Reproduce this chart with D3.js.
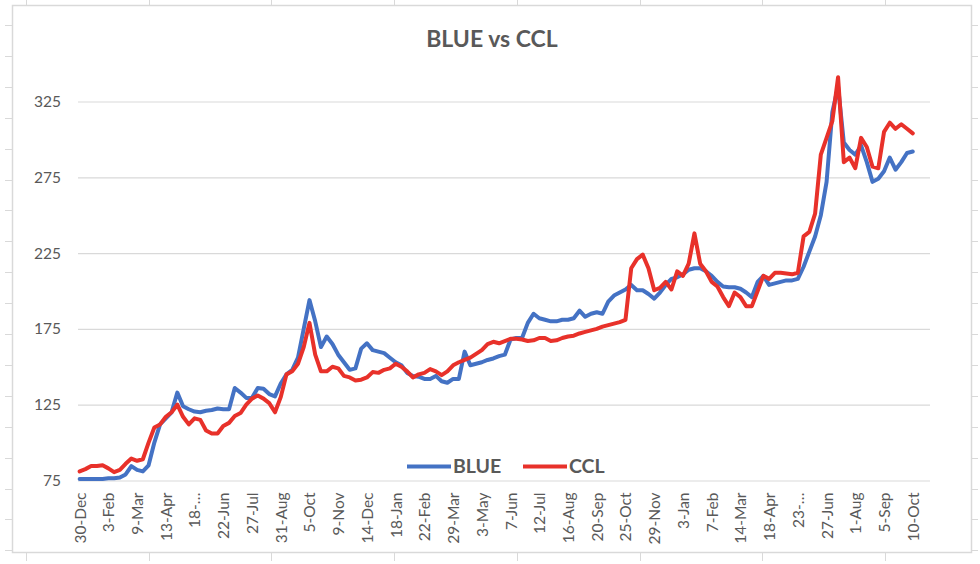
<!DOCTYPE html>
<html>
<head>
<meta charset="utf-8">
<script src="https://cdn.jsdelivr.net/npm/d3@7"></script>
<style>
body { margin: 0; background: #fff; }
svg text { font-family: Lato, "Open Sans", sans-serif; }
</style>
</head>
<body>
<div id="viz"></div>
<script>
var width = 980
var height = 564

// weekly readings, first week 30-Dec-2019
var firstWeek = "2019-12-30"

var blue = [76, 76, 76, 76, 76, 76.5, 76.5, 77, 79, 84.5,
	82, 81, 85, 100, 112, 116, 120, 133, 124, 122,
	120.5, 120, 121, 121.5, 122.5, 122, 122, 136, 133, 129.5,
	129.5, 136, 135.5, 132, 130.5, 139, 145, 148, 156, 175,
	194, 180, 163, 170, 165, 158, 153, 148, 149, 162,
	165.5, 161, 160, 159, 156, 153, 151, 146, 144, 143.5,
	142, 142, 144, 140.5, 139.5, 142, 142, 160, 151, 152,
	153, 154.5, 155.5, 157, 158, 168, 169, 169, 179, 185,
	182, 181, 180, 180, 181, 181, 182, 187, 183, 185,
	186, 185, 193, 197, 199, 201, 204, 200.5, 200.5, 198,
	195, 199, 204, 208, 209, 211, 214, 215, 215, 213,
	210, 206, 203, 202.5, 202.5, 201.5, 199, 196, 206, 210,
	204, 205, 206, 207, 207, 208, 216, 226, 236, 250,
	272, 318, 335, 298, 293, 290, 296, 285, 272, 274,
	279, 288, 280, 285, 291, 292]

var ccl = [81, 82.5, 84.5, 84.5, 85, 83, 80.5, 82, 86, 89.5,
	88, 89, 100, 110, 112, 117, 120, 125, 117, 112,
	116, 115, 108, 106, 106, 111, 113, 117.5, 119.5, 125,
	129, 131, 129, 126, 120, 130, 145, 147, 152, 163,
	179, 158, 147, 147, 150, 149, 144, 143, 141, 141.5,
	143, 146.5, 146, 148, 149, 152, 150, 147, 143, 145,
	146, 148.5, 147, 144.5, 147, 151, 153, 154.5, 156, 158.5,
	161, 165, 166.5, 165.5, 167, 168.5, 168.5, 168, 167, 167.5,
	169, 169, 167, 167.5, 169, 170, 170.5, 172, 173, 174,
	175, 176.5, 177.5, 178.5, 179.5, 181, 215, 221, 224, 215,
	200.5, 202, 206, 201, 213, 210, 218, 238, 218, 213,
	206, 203, 196, 190, 199, 196, 190, 190, 200, 210,
	208, 212, 212, 211.5, 211, 212, 236, 239, 251, 290,
	301, 312, 341, 285, 288, 281, 301, 295, 282, 281,
	305, 311, 307, 310, 307, 304]

var tickLabels = ["30-Dec", "3-Feb", "9-Mar", "13-Apr", "18-\u2026", "22-Jun", "27-Jul",
	"31-Aug", "5-Oct", "9-Nov", "14-Dec", "18-Jan", "22-Feb", "29-Mar", "3-May",
	"7-Jun", "12-Jul", "16-Aug", "20-Sep", "25-Oct", "29-Nov", "3-Jan", "7-Feb",
	"14-Mar", "18-Apr", "23-\u2026", "27-Jun", "1-Aug", "5-Sep", "10-Oct"]

var yTicks = [75, 125, 175, 225, 275, 325]

var seriesNames = ["BLUE", "CCL"]
var seriesColors = ["#4472c4", "#e8312a"]

var parseDate = d3.timeParse("%Y-%m-%d")
var start = parseDate(firstWeek)

var weeks = blue.map(function(d, i){ return d3.timeDay.offset(start, 7 * i) })
var tickDates = tickLabels.map(function(d, i){ return d3.timeDay.offset(start, 35 * i) })

var canvas = d3.select("#viz")
	.append("svg")
	.attr("width", width)
	.attr("height", height);

// spreadsheet gridline stubs round the chart object
var sheet = canvas.append("g").attr("stroke", "#d9d9d9").attr("stroke-width", 1);
d3.range(8).forEach(function(k){
	var x = Math.round(26 + 122.7 * k) + 0.5
	sheet.append("line").attr("x1", x).attr("x2", x).attr("y1", 0).attr("y2", 5)
	sheet.append("line").attr("x1", x).attr("x2", x).attr("y1", 553).attr("y2", 561)
})
d3.range(18).forEach(function(k){
	var y = Math.round(25 + 30.9 * k) + 0.5
	sheet.append("line").attr("x1", 5).attr("x2", 12).attr("y1", y).attr("y2", y)
	sheet.append("line").attr("x1", 972).attr("x2", 978).attr("y1", y).attr("y2", y)
})

canvas.append("rect")
	.attr("x", 12.5)
	.attr("y", 5.5)
	.attr("width", 959)
	.attr("height", 547)
	.attr("fill", "#fff")
	.attr("stroke", "#d9d9d9")
	.attr("stroke-width", 1.5);

var xScale = d3.scaleTime()
	.domain([parseDate("2019-12-28"), parseDate("2022-10-31")])
	.range([78, 930]);

var yScale = d3.scaleLinear()
	.domain([75, 325])
	.range([480.5, 101.5]);

var yAxis = d3.axisLeft()
	.scale(yScale)
	.tickValues(yTicks)
	.tickSize(-(930 - 78))
	.tickPadding(17);

var yG = canvas.append("g")
	.attr("transform", "translate(78,0)")
	.call(yAxis);
yG.select(".domain").remove();
yG.selectAll(".tick line").attr("stroke", "#d9d9d9").attr("stroke-width", 1.2);
yG.selectAll(".tick text")
	.attr("fill", "#595959")
	.attr("font-size", 15.5);

var xAxis = d3.axisBottom()
	.scale(xScale)
	.tickValues(tickDates)
	.tickFormat(function(d, i){ return tickLabels[i] })
	.tickSize(0);

var xG = canvas.append("g")
	.attr("transform", "translate(0,480.5)")
	.call(xAxis);
xG.select(".domain").remove();
xG.selectAll(".tick text")
	.attr("fill", "#595959")
	.attr("font-size", 15.5)
	.attr("text-anchor", "end")
	.attr("transform", "translate(0,12) rotate(-90)")
	.attr("x", 0)
	.attr("y", 0)
	.attr("dy", "0.35em");

var valueLine = d3.line()
	.x(function(d){ return xScale(d.date) })
	.y(function(d){ return yScale(d.value) });

[blue, ccl].forEach(function(series, s){
	canvas.append("path")
		.datum(series.map(function(v, i){ return {date: weeks[i], value: v} }))
		.attr("d", valueLine)
		.attr("fill", "none")
		.attr("stroke", seriesColors[s])
		.attr("stroke-width", 4)
		.attr("stroke-linejoin", "round")
		.attr("stroke-linecap", "round");
});

canvas.append("text")
	.text("BLUE vs CCL")
	.attr("x", 492)
	.attr("y", 47)
	.attr("text-anchor", "middle")
	.attr("font-size", 23)
	.attr("font-weight", "bold")
	.attr("fill", "#595959");

// legend
var legendX = [407, 523]
seriesNames.forEach(function(name, s){
	canvas.append("line")
		.attr("x1", legendX[s])
		.attr("x2", legendX[s] + 44)
		.attr("y1", 466.5)
		.attr("y2", 466.5)
		.attr("stroke", seriesColors[s])
		.attr("stroke-width", 4);
	canvas.append("text")
		.text(name)
		.attr("x", legendX[s] + 46)
		.attr("y", 473)
		.attr("font-size", 19.5)
		.attr("font-weight", "bold")
		.attr("fill", "#595959");
});
</script>
</body>
</html>
